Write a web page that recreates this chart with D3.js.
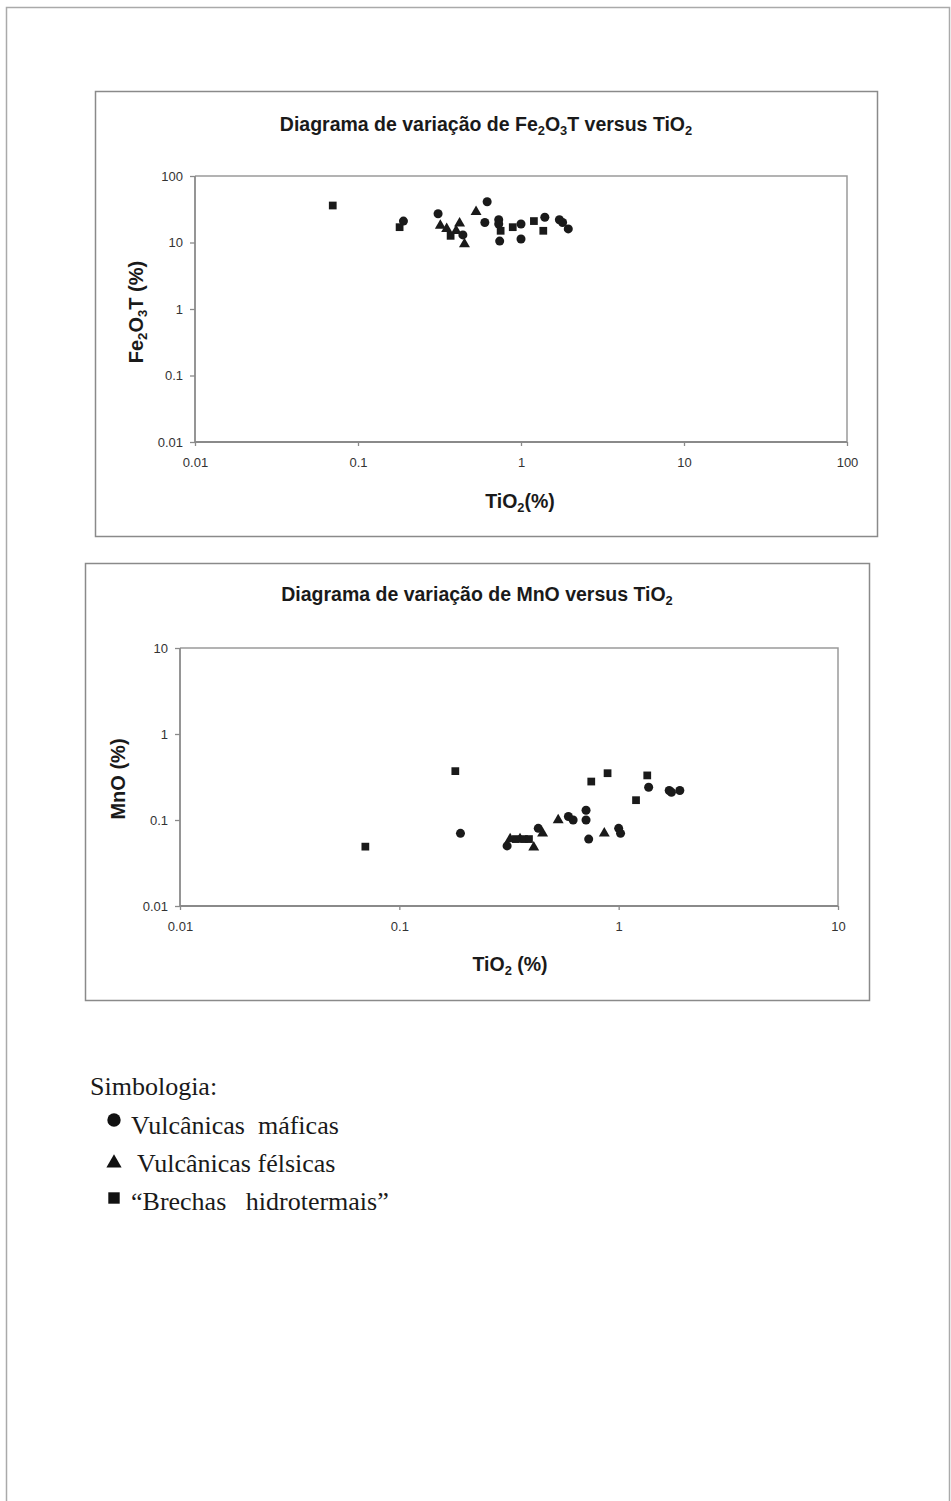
<!DOCTYPE html>
<html>
<head>
<meta charset="utf-8">
<script src="https://cdn.jsdelivr.net/npm/d3@7"></script>
<style>
  body { margin: 0; background: #fff; }
</style>
</head>
<body>
<div class="canva"></div>
<script>
// Fe2O3T vs TiO2 (top chart)
const feMaficas = [[0.19, 21], [0.31, 27], [0.44, 13], [0.62, 41], [0.60, 20], [0.73, 22], [0.73, 19], [0.74, 10.5],
                   [1.0, 19], [1.0, 11.3], [1.4, 24], [1.72, 22], [1.8, 20], [1.95, 16]];
const feFelsicas = [[0.32, 18], [0.35, 16], [0.42, 19.5], [0.40, 15], [0.45, 9.5], [0.53, 29]];
const feBrechas = [[0.07, 36], [0.18, 17], [0.37, 12.6], [0.75, 15], [0.89, 17], [1.2, 21], [1.37, 15]];

// MnO vs TiO2 (bottom chart)
const mnMaficas = [[0.19, 0.07], [0.31, 0.05], [0.43, 0.08], [0.59, 0.11], [0.62, 0.1], [0.71, 0.13], [0.71, 0.1],
                   [0.73, 0.06], [1.0, 0.08], [1.02, 0.07], [1.37, 0.24], [1.7, 0.22], [1.74, 0.21], [1.9, 0.22]];
const mnFelsicas = [[0.32, 0.06], [0.355, 0.06], [0.41, 0.048], [0.45, 0.07], [0.53, 0.1], [0.86, 0.07]];
const mnBrechas = [[0.07, 0.049], [0.18, 0.37], [0.34, 0.06], [0.37, 0.06], [0.39, 0.06], [0.75, 0.28],
                   [0.89, 0.35], [1.2, 0.17], [1.35, 0.33]];

const ticksTop = [0.01, 0.1, 1, 10, 100];
const ticksBottom = [0.01, 0.1, 1, 10];

const legendLabels = ["Vulcânicas  máficas", " Vulcânicas félsicas", "“Brechas   hidrotermais”"];

const SANS = "'Liberation Sans', Arial, sans-serif";
const SERIF = "'Liberation Serif', 'Times New Roman', serif";

const svg = d3.select(".canva").append("svg")
    .attr("width", 951)
    .attr("height", 1501);

// page frame
svg.append("rect")
    .attr("x", 6.5).attr("y", 7.5)
    .attr("width", 943).attr("height", 1500)
    .attr("fill", "none").attr("stroke", "#aaa").attr("stroke-width", 1.5);

const shapes = {
  circle: d3.symbol().type(d3.symbolCircle).size(64),
  triangle: d3.symbol().type(d3.symbolTriangle).size(52),
  square: d3.symbol().type(d3.symbolSquare).size(60)
};

// writes a label with subscript digits, parts = [[text, isSub, comesBackUp], ...]
function subText(sel, parts, size) {
  parts.forEach(p => {
    const t = sel.append("tspan").text(p[0]);
    if (p[1]) t.attr("font-size", size * 0.66).attr("dy", size * 0.22);
    else t.attr("dy", p[2] ? -size * 0.22 : 0);
  });
}

function drawChart(c) {
  const g = svg.append("g");

  g.append("rect")
      .attr("x", c.box[0] + 0.5).attr("y", c.box[1] + 0.5)
      .attr("width", c.box[2]).attr("height", c.box[3])
      .attr("fill", "#fff").attr("stroke", "#8a8a8a").attr("stroke-width", 1.5);

  const x = d3.scaleLog().domain([c.ticks[0], c.ticks[c.ticks.length - 1]]).range(c.xr);
  const y = d3.scaleLog().domain([c.ticks[0], c.ticks[c.ticks.length - 1]]).range(c.yr);

  // plot area border (top / right)
  g.append("path")
      .attr("d", `M${c.xr[0]},${c.yr[1]}H${c.xr[1]}V${c.yr[0]}`)
      .attr("fill", "none").attr("stroke", "#9a9a9a").attr("stroke-width", 1.5);

  const ax = g.append("g")
      .attr("transform", `translate(0,${c.yr[0]})`)
      .call(d3.axisBottom(x).tickValues(c.ticks).tickFormat(d => String(d)).tickSize(4).tickPadding(12));
  const ay = g.append("g")
      .attr("transform", `translate(${c.xr[0]},0)`)
      .call(d3.axisLeft(y).tickValues(c.ticks).tickFormat(d => String(d)).tickSize(5).tickPadding(7));

  [ax, ay].forEach(a => {
    a.select(".domain").attr("stroke", "#8a8a8a").attr("stroke-width", 1.8);
    a.selectAll(".tick line").attr("stroke", "#8a8a8a").attr("stroke-width", 1.3);
    a.selectAll(".tick text").attr("fill", "#333").attr("font-size", 13)
        .style("font-family", SANS);
  });
  ax.select(".domain").attr("d", `M${c.xr[0]},0H${c.xr[1]}`);
  ay.select(".domain").attr("d", `M0,${c.yr[0]}V${c.yr[1]}`);

  // points
  const series = [[c.maficas, "circle"], [c.felsicas, "triangle"], [c.brechas, "square"]];
  series.forEach(s => {
    g.selectAll(null).data(s[0]).join("path")
        .attr("d", shapes[s[1]])
        .attr("transform", d => `translate(${x(d[0])},${y(d[1])})`)
        .attr("fill", "#1a1a1a");
  });

  // title
  const t = g.append("text")
      .attr("x", c.title.x).attr("y", c.title.y)
      .attr("text-anchor", "middle")
      .attr("font-weight", "bold").attr("font-size", 19.5)
      .attr("fill", "#1a1a1a")
      .style("font-family", SANS);
  subText(t, c.title.parts, 19.5);

  const xl = g.append("text")
      .attr("x", c.xlab.x).attr("y", c.xlab.y)
      .attr("text-anchor", "middle")
      .attr("font-weight", "bold").attr("font-size", 19.5)
      .attr("fill", "#1a1a1a")
      .style("font-family", SANS);
  subText(xl, c.xlab.parts, 19.5);

  const yl = g.append("text")
      .attr("transform", `translate(${c.ylab.x},${c.ylab.y}) rotate(-90)`)
      .attr("text-anchor", "middle")
      .attr("font-weight", "bold").attr("font-size", 20)
      .attr("fill", "#1a1a1a")
      .style("font-family", SANS);
  subText(yl, c.ylab.parts, 20);
}

drawChart({
  box: [95, 91, 782, 445],
  ticks: ticksTop,
  xr: [195, 847], yr: [442, 176],
  maficas: feMaficas, felsicas: feFelsicas, brechas: feBrechas,
  title: { x: 486, y: 131, parts: [["Diagrama de variação de Fe"], ["2", 1], ["O", 0, 1], ["3", 1], ["T versus TiO", 0, 1], ["2", 1]] },
  xlab: { x: 520, y: 508, parts: [["TiO"], ["2", 1], ["(%)", 0, 1]] },
  ylab: { x: 143, y: 312, parts: [["Fe"], ["2", 1], ["O", 0, 1], ["3", 1], ["T (%)", 0, 1]] }
});

drawChart({
  box: [85, 563, 784, 437],
  ticks: ticksBottom,
  xr: [180, 838], yr: [906, 648],
  maficas: mnMaficas, felsicas: mnFelsicas, brechas: mnBrechas,
  title: { x: 477, y: 601, parts: [["Diagrama de variação de MnO versus TiO"], ["2", 1]] },
  xlab: { x: 510, y: 971, parts: [["TiO"], ["2", 1], [" (%)", 0, 1]] },
  ylab: { x: 125, y: 779, parts: [["MnO (%)"]] }
});

// legend
const leg = svg.append("g").attr("fill", "#1a1a1a");

leg.append("text").attr("x", 90).attr("y", 1095)
    .attr("font-size", 26).style("font-family", SERIF)
    .text("Simbologia:");

const legendShapes = [
  d3.symbol().type(d3.symbolCircle).size(140),
  d3.symbol().type(d3.symbolTriangle).size(100),
  d3.symbol().type(d3.symbolSquare).size(130)
];
const legendY = d3.scalePoint().domain(legendLabels).range([1134, 1210]);
const legendSymY = [1120, 1163, 1198];

legendLabels.forEach((lab, i) => {
  leg.append("path")
      .attr("d", legendShapes[i])
      .attr("transform", `translate(114,${legendSymY[i]})`)
      .attr("fill", "#111");
  leg.append("text")
      .attr("x", 131).attr("y", legendY(lab))
      .attr("font-size", 26).style("font-family", SERIF)
      .style("white-space", "pre")
      .text(lab);
});
</script>
</body>
</html>
